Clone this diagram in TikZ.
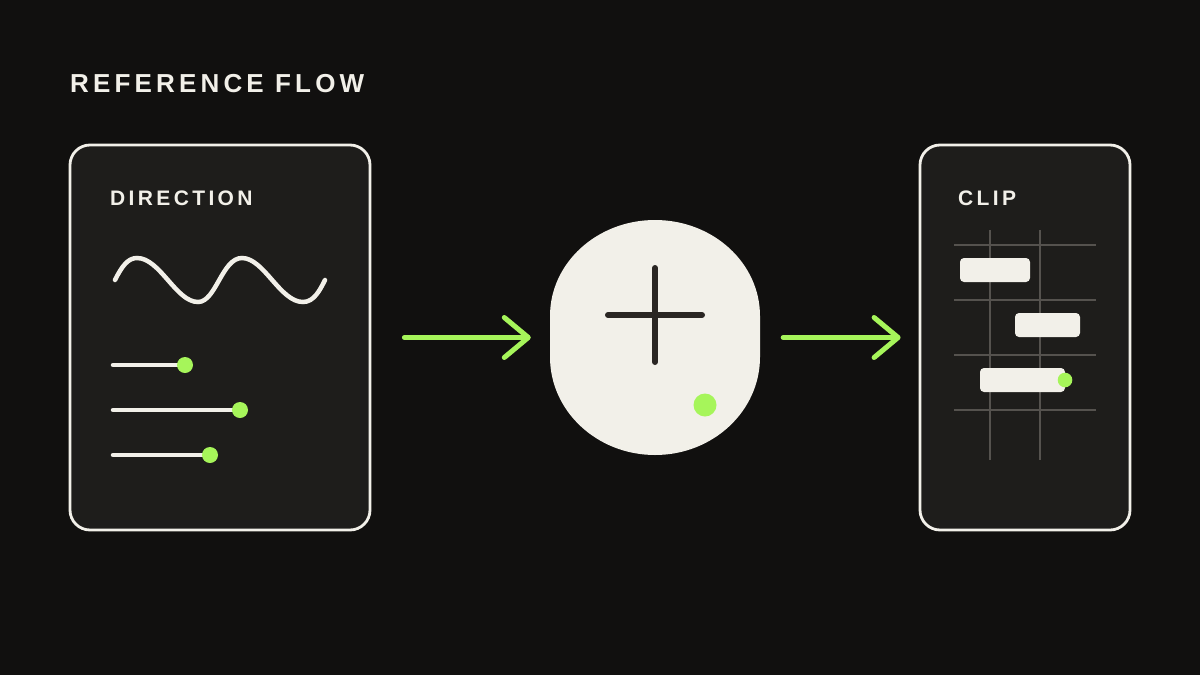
\documentclass[tikz,border=0pt]{standalone}
\usepackage{fontspec}
\setmainfont{Liberation Sans}
\newfontfamily\spacedfont[LetterSpace=16]{Liberation Sans}
\usepackage{tikz}
\usetikzlibrary{positioning,arrows.meta}
\usepackage{xcolor}

\definecolor{bgdark}{RGB}{17,16,15}
\definecolor{panelgray}{RGB}{30,29,27}
\definecolor{offwhite}{RGB}{242,240,233}
\definecolor{limegreen}{RGB}{166,245,90}
\definecolor{gridgray}{RGB}{85,82,78}
\definecolor{crossdark}{RGB}{42,38,35}

\tikzset{
  panel/.style={draw=offwhite,line width=2.8pt,fill=panelgray,rounded corners=20pt,
    minimum height=385pt,inner sep=0pt},
  heading/.style={text=offwhite,inner sep=0pt,anchor=base west,
    font=\spacedfont\bfseries\fontsize{#1}{#1}\selectfont},
  flow/.style={draw=limegreen,line width=5pt,line cap=round,
    -{Straight Barb[length=24pt,width=40pt,line cap=round,round]}},
  track/.style={draw=offwhite,line width=4.5pt,line cap=round},
  knob/.style={fill=limegreen},
  gridline/.style={draw=gridgray,line width=1.8pt},
  bar/.style={fill=offwhite,rounded corners=4pt}
}

\begin{document}
\begin{tikzpicture}[x=1pt,y=1pt,yscale=-1,xscale=1]
%background
\fill[bgdark] (0,0) rectangle (1200,675);
\useasboundingbox (0,0) rectangle (1200,675);

% Text Node
\node[heading=26] (title) at (70,92) {REFERENCE FLOW};

%Shape: Panels and blob
\node[panel,minimum width=300pt] (direction) at (220,337.5) {};
\node[minimum width=210pt,minimum height=235pt,inner sep=0pt] (blob) at (655,337.5) {};
\fill[offwhite] (550,357) -- (550,316)
  arc[start angle=180,end angle=360,x radius=105,y radius=96] -- (760,357)
  arc[start angle=0,end angle=180,x radius=105,y radius=98] -- cycle;
\node[panel,minimum width=210pt] (clip) at (1025,337.5) {};

% Text Node
\node[heading=21] (dirlabel) at (110,205) {DIRECTION};
% Text Node
\node[heading=21] (cliplabel) at (958,205) {CLIP};

%wave
\draw[offwhite,line width=4.5pt,line cap=round] (115,280)
  .. controls (122,266) and (128,258) .. (137,258)
  .. controls (160,258) and (176,302) .. (198,302)
  .. controls (216,302) and (222,258) .. (242,258)
  .. controls (264,258) and (280,302) .. (303,302)
  .. controls (314,302) and (320,290) .. (325,280);

%sliders
\draw[track] (113,365) -- (185,365);
\fill[knob] (185,365) circle (8);
\draw[track] (113,410) -- (240,410);
\fill[knob] (240,410) circle (8);
\draw[track] (113,455) -- (210,455);
\fill[knob] (210,455) circle (8);

%cross and dot
\draw[crossdark,line width=6pt,line cap=round] (608,315) -- (702,315);
\draw[crossdark,line width=6pt,line cap=round] (655,268) -- (655,362);
\fill[knob] (705,405) circle (11.5);

%grid
\foreach \gx in {990,1040}
  \draw[gridline] (\gx,230) -- (\gx,460);
\foreach \gy in {245,300,355,410}
  \draw[gridline] (954,\gy) -- (1096,\gy);

%bars
\fill[bar] (960,258) rectangle (1030,282);
\fill[bar] (1015,313) rectangle (1080,337);
\fill[bar] (980,368) rectangle (1065,392);
\fill[knob] (1065,380) circle (7.3);

%arrows
\draw[flow,shorten <=33pt,shorten >=19pt] (direction.east) -- (blob.west);
\draw[flow,shorten <=23pt,shorten >=18pt] (blob.east) -- (clip.west);

\end{tikzpicture}
\end{document}
